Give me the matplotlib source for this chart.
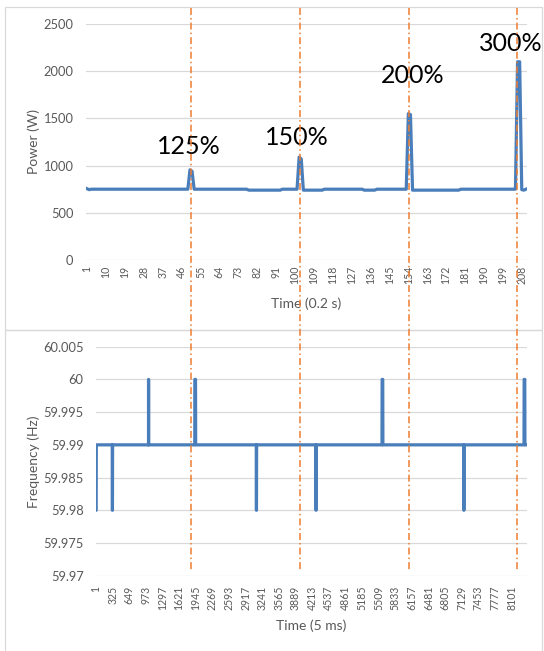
import numpy as np
import matplotlib
matplotlib.use("Agg")
import matplotlib.pyplot as plt
from matplotlib.lines import Line2D
from matplotlib.patches import Rectangle

plt.rcParams["font.family"] = ["Lato", "DejaVu Sans"]
plt.rcParams["lines.scale_dashes"] = False

# power, one sample every 0.2 s, stored as runs of (level, count)
power_levels = [755, 745, 750, 955, 940, 750, 740, 750, 1090, 1070, 740, 750,
                740, 750, 1550, 1540, 740, 750, 2100, 745, 740, 750]
power_counts = [1, 1, 47, 1, 1, 26, 16, 8, 1, 1, 10, 19,
                6, 15, 1, 1, 23, 27, 2, 1, 1, 1]

# grid frequency, one sample every 5 ms, same run format
freq_levels = [59.98, 59.99, 59.98, 59.99, 60.0, 59.99, 60.0, 59.99, 59.98,
               59.99, 59.98, 59.99, 60.0, 59.99, 59.98, 59.99, 60.0, 59.99]
freq_counts = [4, 313, 4, 703, 1, 900, 15, 1184, 4,
               1160, 1, 1285, 15, 1578, 4, 1171, 15, 43]

# load steps (position in power samples) and their labels
step_pos = [50.5, 102.5, 154.3, 205.7]
step_labels = ["125%", "150%", "200%", "300%"]
label_x = [49.5, 101.0, 156.2, 202.6]
label_y = [1128, 1223, 1872, 2215]

power = np.repeat(power_levels, power_counts)
freq = np.repeat(freq_levels, freq_counts)
n_p = len(power)
n_f = len(freq)

blue = "#4A7EBB"
orange = "#ED7D31"
grid_c = "#D9D9D9"
txt_c = "#595959"

W, H = 544, 651
fig = plt.figure(figsize=(W / 100, H / 100), dpi=100)


def px(x, y):
    return x / W, 1 - y / H


def frame(ax):
    for s in ax.spines.values():
        s.set_visible(False)
    ax.set_axisbelow(True)
    ax.yaxis.grid(True, color=grid_c, lw=0.9)
    ax.tick_params(axis="both", length=0, colors=txt_c)
    for t in ax.get_yticklabels():
        t.set_fontsize(9.3)


# top: power
ax1 = fig.add_axes([86 / W, 1 - 260 / H, 441 / W, 236 / H])
ax1.plot(np.arange(1, n_p + 1), power, color=blue, lw=2.3)
ax1.set_xlim(0.5, n_p + 0.5)
ax1.set_ylim(0, 2500)
ax1.set_yticks(range(0, 2501, 500))
ax1.set_xticks(range(1, n_p + 1, 9))
ax1.set_xticklabels([str(v) for v in range(1, n_p + 1, 9)], rotation=90, fontsize=7.6)
frame(ax1)
ax1.tick_params(axis="y", pad=9)
ax1.tick_params(axis="x", pad=4)
ax1.set_ylabel("Power (W)", fontsize=10, color=txt_c, va="center")
ax1.yaxis.set_label_coords(-0.118, 0.5)
ax1.set_xlabel("Time (0.2 s)", fontsize=10, color=txt_c, va="center")
ax1.xaxis.set_label_coords(0.5, -0.186)
for lx, ly, s in zip(label_x, label_y, step_labels):
    ax1.text(lx, ly, s, fontsize=18, color="black", ha="center",
             va="baseline", clip_on=False)

# bottom: frequency
ax2 = fig.add_axes([96 / W, 1 - 575.7 / H, 431 / W, 229 / H])
ax2.plot(np.arange(1, n_f + 1), freq, color=blue, lw=2.3)
ax2.set_xlim(0.5, n_f + 0.5)
ax2.set_ylim(59.97, 60.005)
yt = [59.97, 59.975, 59.98, 59.985, 59.99, 59.995, 60.0, 60.005]
ax2.set_yticks(yt)
ax2.set_yticklabels(["59.97", "59.975", "59.98", "59.985", "59.99", "59.995", "60", "60.005"])
ax2.set_xticks(range(1, n_f + 1, 324))
ax2.set_xticklabels([str(v) for v in range(1, n_f + 1, 324)], rotation=90, fontsize=7.6)
frame(ax2)
ax2.tick_params(axis="y", pad=9)
ax2.tick_params(axis="x", pad=7)
ax2.set_ylabel("Frequency (Hz)", fontsize=10, color=txt_c, va="center")
ax2.yaxis.set_label_coords(-0.144, 0.498)
ax2.set_xlabel("Time (5 ms)", fontsize=10, color=txt_c, va="center")
ax2.xaxis.set_label_coords(0.499, -0.22)

# chart borders
for y0, y1 in [(7.3, 329.7), (329.7, 652)]:
    x0f, y1f = px(4.7, y1)
    x1f, y0f = px(541.7, y0)
    fig.add_artist(Rectangle((x0f, y1f), x1f - x0f, y0f - y1f, transform=fig.transFigure,
                             fill=False, ec=grid_c, lw=0.9))

# load step markers through both charts
for p in step_pos:
    xd = ax1.transData.transform((p, 0))[0]
    xf = xd / fig.bbox.width
    fig.add_artist(Line2D([xf, xf], [px(0, 8)[1], px(0, 571)[1]], transform=fig.transFigure,
                          color=orange, lw=1.1, dashes=(5, 2.2, 1.1, 2.2)))

fig.savefig("out.png", dpi=100)
